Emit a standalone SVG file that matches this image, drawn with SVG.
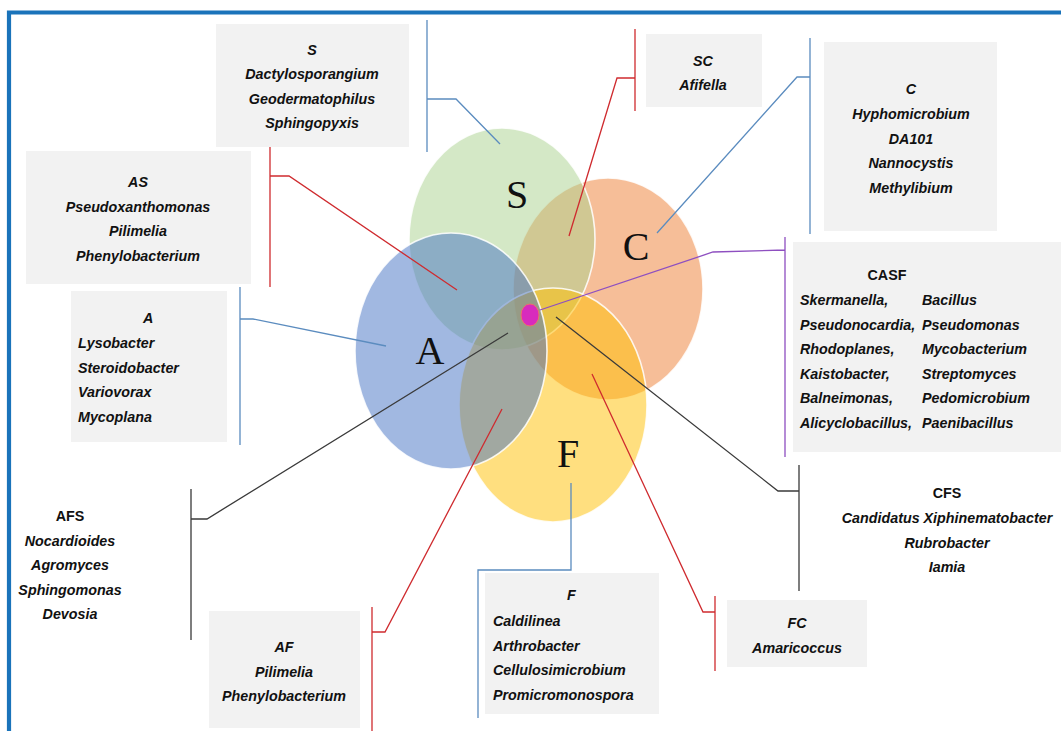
<svg xmlns="http://www.w3.org/2000/svg" width="1061" height="731" viewBox="0 0 1061 731">
<style>
.t{font-family:"Liberation Sans",Arial,sans-serif;font-weight:bold;font-style:italic;font-size:14.3px;fill:#111}
.u{font-family:"Liberation Sans",Arial,sans-serif;font-weight:bold;font-size:14.3px;fill:#111}
.m{text-anchor:middle}
.big{font-family:"Liberation Serif","Times New Roman",serif;font-size:40px;fill:#111;text-anchor:middle}
.box{fill:#f2f2f2}
.ell{stroke:#fff;stroke-width:1.6;stroke-opacity:0.85;fill-opacity:0.5}
.c{fill:none;stroke-width:1.3}
.red{stroke:#cf2b2f}
.blue{stroke:#5b8cbf}
.blk{stroke:#3a3a3a}
.pur{stroke:#8e4fc0}
</style>
<rect width="1061" height="731" fill="#fff"/>
<path d="M9 731 V12.5 H1061" fill="none" stroke="#1a73ba" stroke-width="4.2"/>

<g id="venn">
<ellipse id="ellC" class="ell" cx="608" cy="289" rx="95" ry="111" fill="#ED7D31"/>
<ellipse id="ellS" class="ell" cx="502" cy="239" rx="93" ry="111" fill="#A9D18E"/>
<ellipse id="ellF" class="ell" cx="553" cy="405" rx="94" ry="117" fill="#FFC000"/>
<ellipse id="ellA" class="ell" cx="451" cy="351" rx="96" ry="118" fill="#4472C4"/>
<text class="big" x="517" y="208">S</text>
<text class="big" x="636" y="260">C</text>
<text class="big" x="430" y="364">A</text>
<text class="big" x="568" y="467">F</text>
<ellipse id="dot" cx="530" cy="315" rx="9" ry="11" fill="#d82bbd" stroke="#ee6f6a" stroke-width="1"/>
</g>

<g id="connectors">
<path class="c blue" d="M427 20 V152 M427 99 H456 L500 144"/>
<path class="c red" d="M270 147 V287 M270 176 H289 L457 290"/>
<path class="c blue" d="M240 287 V445 M240 319 H253 L386 346"/>
<path class="c blk" d="M191 489 V640 M191 519 H207 L508 333"/>
<path class="c red" d="M372 607 V731 M372 632 H385 L502 409"/>
<path class="c blue" d="M571 483 V570 H478 V718"/>
<path class="c red" d="M592 374 L703 612 H715 M715 596 V671"/>
<path class="c blk" d="M556 317 L778 491 H799 M799 465 V591"/>
<path class="c pur" d="M540 310 L713 252 L785 250 M785 237 V457"/>
<path class="c blue" d="M810 38 V234 M810 77 H797 L657 233"/>
<path class="c red" d="M635 29 V111 M635 78 H617 L569 236"/>
</g>

<g id="node-S">
<rect class="box" x="216" y="24" width="193" height="123"/>
<text class="t m" x="312"><tspan x="312" y="54.5">S</tspan><tspan x="312" y="79">Dactylosporangium</tspan><tspan x="312" y="103.5">Geodermatophilus</tspan><tspan x="312" y="128">Sphingopyxis</tspan></text>
</g>

<g id="node-AS">
<rect class="box" x="26" y="151" width="225" height="133"/>
<text class="t m"><tspan x="138" y="187">AS</tspan><tspan x="138" y="211.5">Pseudoxanthomonas</tspan><tspan x="138" y="236">Pilimelia</tspan><tspan x="138" y="260.5">Phenylobacterium</tspan></text>
</g>

<g id="node-A">
<rect class="box" x="71" y="291" width="156" height="151"/>
<text class="t"><tspan x="143" y="323">A</tspan><tspan x="78" y="348">Lysobacter</tspan><tspan x="78" y="372.5">Steroidobacter</tspan><tspan x="78" y="397">Variovorax</tspan><tspan x="78" y="421.5">Mycoplana</tspan></text>
</g>

<g id="node-AFS">
<text class="u m" x="70" y="521">AFS</text>
<text class="t m"><tspan x="70" y="545.5">Nocardioides</tspan><tspan x="70" y="570">Agromyces</tspan><tspan x="70" y="594.5">Sphingomonas</tspan><tspan x="70" y="619">Devosia</tspan></text>
</g>

<g id="node-AF">
<rect class="box" x="209" y="611" width="151" height="117"/>
<text class="t m"><tspan x="284" y="652">AF</tspan><tspan x="284" y="676.5">Pilimelia</tspan><tspan x="284" y="701">Phenylobacterium</tspan></text>
</g>

<g id="node-F">
<rect class="box" x="485" y="573" width="174" height="141"/>
<text class="t"><tspan x="567" y="600">F</tspan><tspan x="493" y="626">Caldilinea</tspan><tspan x="493" y="650.5">Arthrobacter</tspan><tspan x="493" y="675">Cellulosimicrobium</tspan><tspan x="493" y="699.5">Promicromonospora</tspan></text>
</g>

<g id="node-FC">
<rect class="box" x="727" y="600" width="140" height="67"/>
<text class="t m"><tspan x="797" y="628">FC</tspan><tspan x="797" y="653">Amaricoccus</tspan></text>
</g>

<g id="node-CFS">
<text class="u m" x="947" y="498">CFS</text>
<text class="t m"><tspan x="947" y="523">Candidatus Xiphinematobacter</tspan><tspan x="947" y="547.5">Rubrobacter</tspan><tspan x="947" y="572">Iamia</tspan></text>
</g>

<g id="node-CASF">
<rect class="box" x="793" y="242" width="268" height="210"/>
<text class="u m" x="887" y="280">CASF</text>
<text class="t"><tspan x="800" y="305">Skermanella,</tspan><tspan x="800" y="329.6">Pseudonocardia,</tspan><tspan x="800" y="354.2">Rhodoplanes,</tspan><tspan x="800" y="378.8">Kaistobacter,</tspan><tspan x="800" y="403.4">Balneimonas,</tspan><tspan x="800" y="428">Alicyclobacillus,</tspan></text>
<text class="t"><tspan x="922" y="305">Bacillus</tspan><tspan x="922" y="329.6">Pseudomonas</tspan><tspan x="922" y="354.2">Mycobacterium</tspan><tspan x="922" y="378.8">Streptomyces</tspan><tspan x="922" y="403.4">Pedomicrobium</tspan><tspan x="922" y="428">Paenibacillus</tspan></text>
</g>

<g id="node-C">
<rect class="box" x="824" y="42" width="173" height="189"/>
<text class="t m"><tspan x="911" y="94">C</tspan><tspan x="911" y="119">Hyphomicrobium</tspan><tspan x="911" y="143.5">DA101</tspan><tspan x="911" y="168">Nannocystis</tspan><tspan x="911" y="192.5">Methylibium</tspan></text>
</g>

<g id="node-SC">
<rect class="box" x="646" y="34" width="116" height="73"/>
<text class="t m"><tspan x="703" y="66">SC</tspan><tspan x="703" y="90">Afifella</tspan></text>
</g>
</svg>
